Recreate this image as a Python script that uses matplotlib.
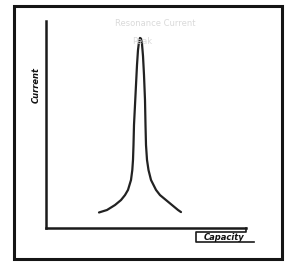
import matplotlib
matplotlib.use("Agg")
import matplotlib.pyplot as plt
from matplotlib.patches import Rectangle

# hand-drawn resonance curve (0-100 scale)
capacity = [26.5, 30.5, 34.5, 37.5, 39.5, 41.0, 42.5, 43.15, 43.5,
            43.75, 44.0, 44.5, 45.0, 45.5, 46.0, 46.5, 47.0, 47.5,
            48.0, 48.5, 49.0, 49.5, 49.75, 50.0,
            50.5, 51.25, 52.5, 55.0, 57.0, 60.0, 63.0, 66.0, 67.5]
current = [7.5, 8.7, 11.1, 13.5, 15.9, 18.4, 23.2, 28.0, 32.9,
           40.1, 49.8, 59.4, 69.1, 78.7, 86.0, 89.9, 91.8, 91.5,
           88.9, 83.1, 73.9, 61.8, 49.8, 40.1,
           32.9, 28.0, 23.2, 18.4, 15.9, 13.5, 11.1, 8.7, 7.7]

x_label = "Capacity"
y_label = "Current"
title_lines = ["Resonance Current", "Peak"]

W, H = 290, 263
fig = plt.figure(figsize=(W / 100, H / 100), dpi=100)
fig.patch.set_facecolor("white")

# outer frame
fig.add_artist(Rectangle((14 / W, 1 - 259 / H), (282 - 14) / W, (259 - 6) / H,
                         transform=fig.transFigure, fill=False,
                         lw=2.2, ec="#151515"))

ax = fig.add_axes([46 / W, 1 - 228 / H, (246 - 46) / W, (228 - 21) / H])
ax.plot(capacity, current, color="#222222", lw=1.6,
        solid_capstyle="round", solid_joinstyle="round")
ax.set_xlim(0, 100)
ax.set_ylim(0, 100)
for s in ["top", "right"]:
    ax.spines[s].set_visible(False)
for s in ["left", "bottom"]:
    ax.spines[s].set_linewidth(1.8)
    ax.spines[s].set_color("#1a1a1a")
ax.set_xticks([])
ax.set_yticks([])
ax.patch.set_alpha(0)

# little step and underline under the x label
fig.add_artist(plt.Line2D([246 / W, 246 / W, 196 / W, 196 / W, 254 / W],
                          [1 - 228 / H, 1 - 232 / H, 1 - 232 / H, 1 - 242 / H, 1 - 242 / H],
                          transform=fig.transFigure, color="#1a1a1a", lw=1.2))
fig.text(224 / W, 1 - 237 / H, x_label, fontsize=6, style="italic",
         weight="bold", ha="center", va="center", color="#111111")
fig.text(36 / W, 1 - 85 / H, y_label, fontsize=6, style="italic",
         weight="bold", rotation=90, ha="center", va="center", color="#111111")

fig.text(155 / W, 1 - 23 / H, title_lines[0], fontsize=6, ha="center",
         va="center", color="#dadada")
fig.text(142 / W, 1 - 42 / H, title_lines[1], fontsize=6, ha="center",
         va="center", color="#dadada")

fig.savefig("out.png", dpi=100)
